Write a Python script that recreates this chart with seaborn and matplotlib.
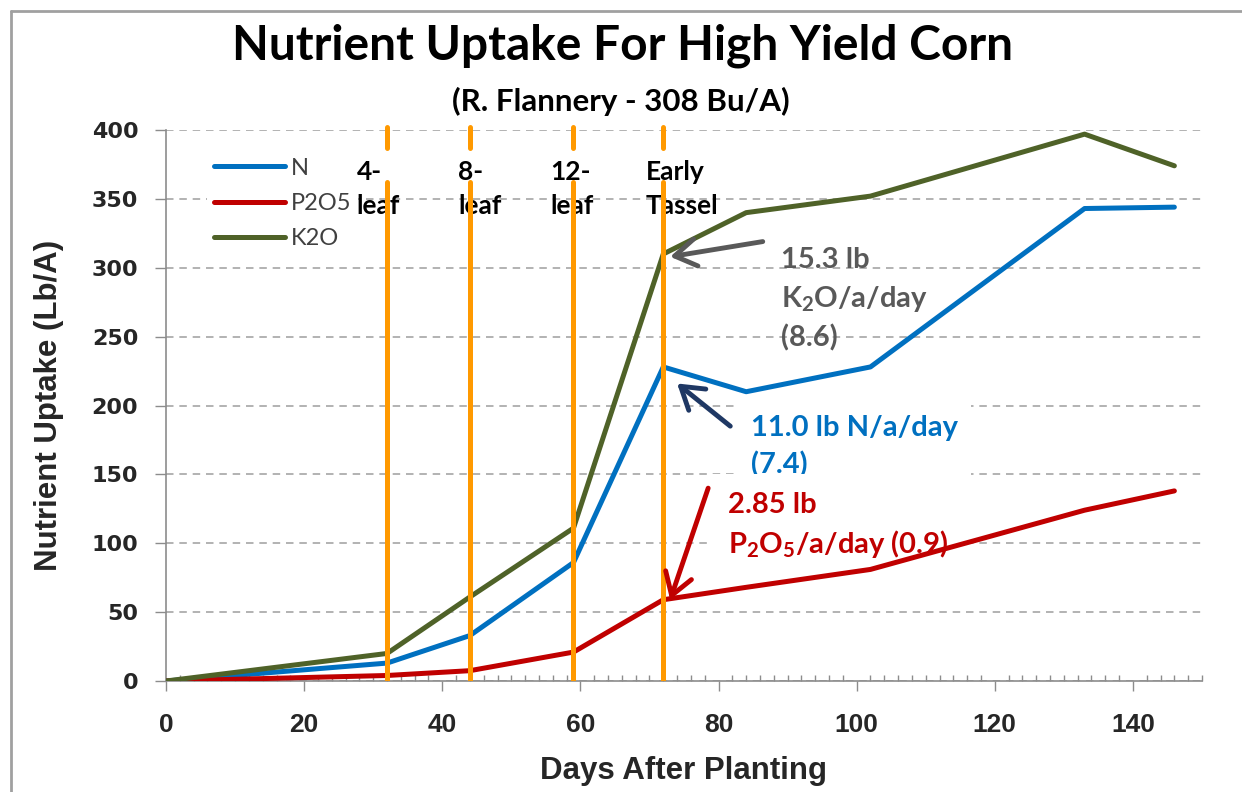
import matplotlib
matplotlib.use("Agg")
import matplotlib.pyplot as plt
from matplotlib.lines import Line2D
from matplotlib.ticker import MultipleLocator, FixedLocator
import numpy as np
import pandas as pd
import seaborn as sns

# ---- data ----
days = [0, 32, 44, 59, 72, 84, 102, 133, 146]
n_uptake = [0, 13, 33, 86, 228, 210, 228, 343, 344]
p2o5_uptake = [0, 4, 7.5, 21, 59, 68, 81, 124, 138]
k2o_uptake = [0, 20, 61, 111, 310, 340, 352, 397, 374]
series_names = ["N", "P2O5", "K2O"]
stage_days = [32, 44, 59, 72]
stage_labels = ["4-\nleaf", "8-\nleaf", "12-\nleaf", "Early\nTassel"]
x_ticks = [0, 20, 40, 60, 80, 100, 120, 140]
y_ticks = [0, 50, 100, 150, 200, 250, 300, 350, 400]

title = "Nutrient Uptake For High Yield Corn"
subtitle = "(R. Flannery - 308 Bu/A)"
x_label = "Days After Planting"
y_label = "Nutrient Uptake (Lb/A)"
k_note = "15.3 lb\nK$_\\mathbf{2}$O/a/day\n(8.6)"
n_note = "11.0 lb N/a/day\n(7.4)"
p_note = "2.85 lb\nP$_\\mathbf{2}$O$_\\mathbf{5}$/a/day (0.9)"

colors = {"N": "#0070C0", "P2O5": "#C00000", "K2O": "#4F6228"}

df = pd.DataFrame({
    "Days": days * 3,
    "Uptake": n_uptake + p2o5_uptake + k2o_uptake,
    "Nutrient": [s for s in series_names for _ in days],
})

sns.set_theme(style="white")
plt.rcParams["font.family"] = ["Liberation Sans", "DejaVu Sans"]
plt.rcParams["mathtext.fontset"] = "custom"
plt.rcParams["mathtext.rm"] = "Lato"
plt.rcParams["mathtext.bf"] = "Lato:bold"
plt.rcParams["mathtext.it"] = "Lato:italic"

fig = plt.figure(figsize=(12.42, 7.92), dpi=100)
fig.patch.set_facecolor("white")
ax = fig.add_axes([166 / 1242, 1 - 681 / 792, 1036 / 1242, 551 / 792])

sns.lineplot(data=df, x="Days", y="Uptake", hue="Nutrient", palette=colors,
             hue_order=series_names, linewidth=3.6, ax=ax, zorder=3,
             solid_capstyle="round", solid_joinstyle="round")

ax.set_xlim(0, 150)
ax.set_ylim(0, 400)
ax.xaxis.set_major_locator(FixedLocator(x_ticks))
ax.yaxis.set_major_locator(FixedLocator(y_ticks))
ax.xaxis.set_minor_locator(MultipleLocator(2))

ax.yaxis.grid(True, linestyle=(0, (4.5, 3.5)), color="#A6A6A6", linewidth=1.2, zorder=0)
ax.xaxis.grid(False)
ax.set_axisbelow(True)
for side in ["top", "right"]:
    ax.spines[side].set_visible(False)
for side in ["left", "bottom"]:
    ax.spines[side].set_color("#8C8C8C")
    ax.spines[side].set_linewidth(1.2)

ax.tick_params(axis="y", which="major", left=True, direction="out", length=8,
               width=1, color="#8C8C8C", pad=12)
ax.tick_params(axis="x", which="major", bottom=True, direction="out", length=7,
               width=1, color="#8C8C8C", pad=16)
ax.tick_params(axis="x", which="minor", bottom=True, direction="in", length=4,
               width=1, color="#8C8C8C")
for lab in ax.get_yticklabels():
    lab.set_fontfamily("DejaVu Sans")
    lab.set_fontweight("bold")
    lab.set_fontsize(16)
for lab in ax.get_xticklabels():
    lab.set_fontfamily("Liberation Sans")
    lab.set_fontweight("bold")
    lab.set_fontsize(19)

ax.set_xlabel(x_label, fontsize=22.5, fontweight="bold", labelpad=14)
ax.set_ylabel(y_label, fontsize=22.5, fontweight="bold", labelpad=20)

# stage lines (with small gap near the top like the original)
for d in stage_days:
    ax.axvline(d, ymin=0, ymax=0.906, color="#FF9900", linewidth=3.6, zorder=6)
    ax.axvline(d, ymin=0.968, ymax=1.005, color="#FF9900", linewidth=3.6,
               zorder=6, clip_on=False)

stage_text_x = [27.6, 42.3, 55.6, 69.5]
for tx, lab in zip(stage_text_x, stage_labels):
    ax.text(tx, 378, lab, ha="left", va="top", fontsize=19, fontweight="bold",
            family="Lato", color="black", linespacing=1.47, zorder=5.5)

# legend
handles, labels = ax.get_legend_handles_labels()
leg = ax.legend(handles, labels, loc="upper left", bbox_to_anchor=(0.028, 0.984),
                frameon=True, fancybox=False, facecolor="white", edgecolor="none",
                framealpha=1, handlelength=3.0, handletextpad=0.25, labelspacing=0.6,
                borderpad=0.3, prop={"family": "Lato", "size": 17})
for t in leg.get_texts():
    t.set_color("#404040")
for h in leg.get_lines():
    h.set_linewidth(3.6)
    h.set_solid_capstyle("round")

# annotations
ax.text(89.0, 315, k_note, color="#595959", fontsize=21, fontweight="bold",
        family="Lato", ha="left", va="top", linespacing=1.47, zorder=1)
ax.text(84.7, 193, n_note, color="#0070C0", fontsize=21, fontweight="bold",
        family="Lato", ha="left", va="top", linespacing=1.45, zorder=1.1,
        bbox=dict(facecolor="white", edgecolor="none", pad=9))
ax.text(81.4, 137, p_note, color="#C00000", fontsize=21, fontweight="bold",
        family="Lato", ha="left", va="top", linespacing=1.4, zorder=1.2,
        bbox=dict(facecolor="white", edgecolor="none", pad=15))

i_tassel = days.index(stage_days[-1])
arrow_kw = dict(shrinkA=0, shrinkB=0, lw=3.5, mutation_scale=28)
ax.annotate("", xy=(days[i_tassel] + 1, k2o_uptake[i_tassel] - 2), xytext=(86.4, 319),
            arrowprops=dict(arrowstyle="->,head_length=0.55,head_width=0.35",
                            color="#595959", **arrow_kw), zorder=6)
ax.annotate("", xy=(days[i_tassel] + 2, n_uptake[i_tassel] - 12), xytext=(81.7, 185),
            arrowprops=dict(arrowstyle="->,head_length=0.55,head_width=0.35",
                            color="#1F3864", **arrow_kw), zorder=6)
ax.annotate("", xy=(days[i_tassel] + 1, p2o5_uptake[i_tassel]), xytext=(78.5, 140),
            arrowprops=dict(arrowstyle="->,head_length=0.55,head_width=0.35",
                            color="#C00000", **arrow_kw), zorder=6)

# titles
fig.text(623 / 1242, 1 - 46 / 792, title, ha="center", va="center", fontsize=34.5,
         fontweight="bold", family="Lato", color="black")
fig.text(621 / 1242, 1 - 101 / 792, subtitle, ha="center", va="center", fontsize=22.5,
         fontweight="bold", family="Lato", color="black")

# outer frame (top and left edges visible)
fig.add_artist(Line2D([11 / 1242, 11 / 1242], [0, 1 - 11 / 792], transform=fig.transFigure,
                      color="#A0A0A0", linewidth=2))
fig.add_artist(Line2D([11 / 1242, 1], [1 - 11 / 792, 1 - 11 / 792], transform=fig.transFigure,
                      color="#A0A0A0", linewidth=2))

fig.savefig("out.png", dpi=100, facecolor="white")
